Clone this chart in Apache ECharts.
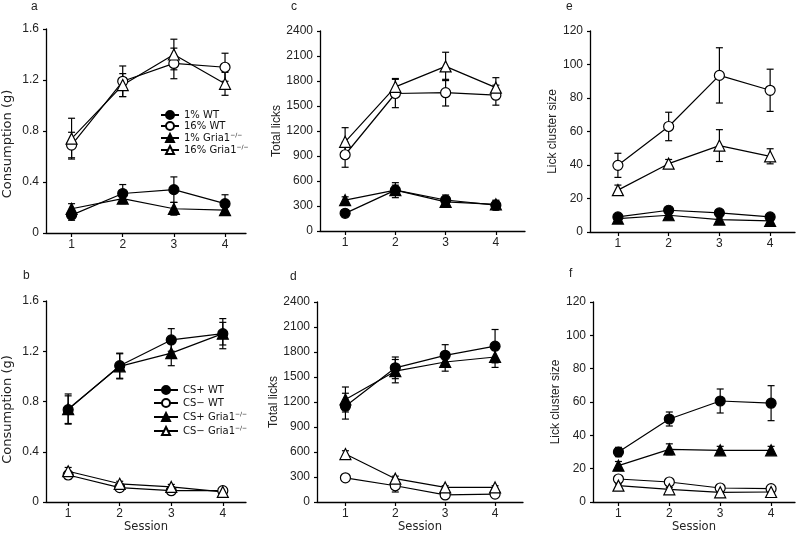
<!DOCTYPE html>
<html><head><meta charset="utf-8">
<script src="https://cdn.jsdelivr.net/npm/echarts@6/dist/echarts.min.js"></script>
<style>html,body{margin:0;padding:0;background:#fff}#c{width:796px;height:534px}</style>
</head><body><div id="c"></div>
<script>
const sessions = [1, 2, 3, 4];
const sessionTicks = [1, 2, 3, 4];

// Panel a: consumption (g), top row
const a_1wt = [0.14, 0.31, 0.34, 0.23];   const a_1wt_err = [0.04, 0.07, 0.10, 0.07];
const a_16wt = [0.69, 1.19, 1.33, 1.30];  const a_16wt_err = [0.10, 0.12, 0.12, 0.11];
const a_1ko = [0.19, 0.27, 0.19, 0.18];   const a_1ko_err = [0.04, 0.04, 0.05, 0.03];
const a_16ko = [0.74, 1.16, 1.40, 1.17];  const a_16ko_err = [0.16, 0.09, 0.12, 0.09];
// Panel c: total licks
const c_1wt = [212, 490, 372, 310];       const c_1wt_err = [40, 90, 60, 60];
const c_16wt = [915, 1650, 1660, 1630];   const c_16wt_err = [150, 170, 160, 120];
const c_1ko = [370, 490, 350, 320];       const c_1ko_err = [40, 60, 50, 40];
const c_16ko = [1070, 1730, 1975, 1720];  const c_16ko_err = [170, 100, 170, 120];
// Panel e: lick cluster size
const e_1wt = [9.0, 13.0, 11.4, 9.0];     const e_1wt_err = [1.2, 1.3, 1.2, 1.0];
const e_16wt = [39.8, 63.0, 93.5, 84.6];  const e_16wt_err = [7.2, 8.5, 16.5, 12.6];
const e_1ko = [8.0, 10.0, 7.4, 6.6];      const e_1ko_err = [1.0, 1.2, 1.0, 1.0];
const e_16ko = [25.0, 40.8, 51.6, 45.2];  const e_16ko_err = [3.0, 2.5, 9.5, 4.5];
// Panel b: consumption (g), bottom row
const b_cspwt = [0.735, 1.085, 1.29, 1.34]; const b_cspwt_err = [0.11, 0.10, 0.09, 0.09];
const b_csmwt = [0.215, 0.115, 0.09, 0.09]; const b_csmwt_err = [0.03, 0.02, 0.02, 0.02];
const b_cspko = [0.74, 1.08, 1.185, 1.34];  const b_cspko_err = [0.12, 0.10, 0.10, 0.12];
const b_csmko = [0.245, 0.145, 0.12, 0.08]; const b_csmko_err = [0.03, 0.02, 0.02, 0.02];
// Panel d: total licks
const d_cspwt = [1150, 1610, 1760, 1870];  const d_cspwt_err = [155, 130, 128, 200];
const d_csmwt = [290, 195, 85, 95];        const d_csmwt_err = [20, 75, 20, 20];
const d_cspko = [1230, 1570, 1680, 1740];  const d_cspko_err = [150, 140, 110, 125];
const d_csmko = [575, 280, 175, 175];      const d_csmko_err = [40, 30, 20, 20];
// Panel f: lick cluster size
const f_cspwt = [30.0, 49.8, 60.6, 59.3];  const f_cspwt_err = [2.8, 4.2, 7.2, 10.5];
const f_csmwt = [13.8, 12.0, 8.4, 8.0];    const f_csmwt_err = [1, 1, 1, 1];
const f_cspko = [21.8, 31.6, 31.0, 31.0];  const f_cspko_err = [2.5, 3.3, 2.4, 2.4];
const f_csmko = [9.8, 7.6, 5.8, 6.0];      const f_csmko_err = [1, 1, 1, 1];

const topNames = ['1% WT', '16% WT', '1% Gria1', '16% Gria1'];
const botNames = ['CS+ WT', 'CS\u2212 WT', 'CS+ Gria1', 'CS\u2212 Gria1'];
const yTitles = ['Consumption (g)', 'Total licks', 'Lick cluster size'];
const panelLetters = ['a', 'c', 'e', 'b', 'd', 'f'];

const panels = [
  {data: [[a_1wt, a_1wt_err], [a_16wt, a_16wt_err], [a_1ko, a_1ko_err], [a_16ko, a_16ko_err]], names: topNames, ymax: 1.6, yint: 0.4, title: yTitles[0]},
  {data: [[c_1wt, c_1wt_err], [c_16wt, c_16wt_err], [c_1ko, c_1ko_err], [c_16ko, c_16ko_err]], names: topNames, ymax: 2400, yint: 300, title: yTitles[1]},
  {data: [[e_1wt, e_1wt_err], [e_16wt, e_16wt_err], [e_1ko, e_1ko_err], [e_16ko, e_16ko_err]], names: topNames, ymax: 120, yint: 20, title: yTitles[2]},
  {data: [[b_cspwt, b_cspwt_err], [b_csmwt, b_csmwt_err], [b_cspko, b_cspko_err], [b_csmko, b_csmko_err]], names: botNames, ymax: 1.6, yint: 0.4, title: yTitles[0]},
  {data: [[d_cspwt, d_cspwt_err], [d_csmwt, d_csmwt_err], [d_cspko, d_cspko_err], [d_csmko, d_csmko_err]], names: botNames, ymax: 2400, yint: 300, title: yTitles[1]},
  {data: [[f_cspwt, f_cspwt_err], [f_csmwt, f_csmwt_err], [f_cspko, f_cspko_err], [f_csmko, f_csmko_err]], names: botNames, ymax: 120, yint: 20, title: yTitles[2]}
];

const labelFont = 'Liberation Sans, Arial, sans-serif';
const legendFont = 'DejaVu Sans, Verdana, sans-serif';

// layout (pixels)
const grids = [
  {left: 46, top: 29, width: 200, height: 204, xmin: 0.5, xmax: 4.41, nameGap: 32, pad: [0, 26, 0, 0], tf: legendFont, ts: 13, lx: 31, ly: 1},
  {left: 320, top: 31, width: 205, height: 200, xmin: 0.5, xmax: 4.58, nameGap: 37, pad: [0, 0, 0, 0], tf: labelFont, ts: 12, lx: 291, ly: 1},
  {left: 590, top: 31, width: 205, height: 201, xmin: 0.45, xmax: 4.49, nameGap: 21, pad: [0, 0, 0, 0], tf: labelFont, ts: 12, lx: 566, ly: 1},
  {left: 46, top: 301, width: 200, height: 202, xmin: 0.57, xmax: 4.45, nameGap: 32, pad: [0, 16, 0, 0], tf: legendFont, ts: 13, lx: 23, ly: 270},
  {left: 317, top: 302, width: 206, height: 200, xmin: 0.43, xmax: 4.56, nameGap: 34, pad: [0, 0, 0, 0], tf: labelFont, ts: 12, lx: 290, ly: 271},
  {left: 593, top: 302, width: 202, height: 201, xmin: 0.5, xmax: 4.47, nameGap: 25, pad: [0, 0, 0, 0], tf: labelFont, ts: 12, lx: 569, ly: 268}
];
const styles = [
  {symbol: 'circle', fill: '#000'},
  {symbol: 'circle', fill: '#fff'},
  {symbol: 'triangle', fill: '#000'},
  {symbol: 'triangle', fill: '#fff'}
];

const legendText = {fontFamily: legendFont, fontSize: 10, color: '#111', lineHeight: 10,
  rich: {s: {fontSize: 6, fontFamily: legendFont, color: '#111', padding: [0, 0, 6, 0]}}};

const option = {
  animation: false,
  backgroundColor: '#fff',
  grid: grids.map(g => ({left: g.left, top: g.top, width: g.width, height: g.height, containLabel: false})),
  xAxis: grids.map((g, i) => ({
    type: 'value', gridIndex: i, min: g.xmin, max: g.xmax,
    name: i >= 3 ? 'Session' : '', nameLocation: 'middle', nameGap: 19,
    nameTextStyle: {fontFamily: legendFont, fontSize: 11.5, color: '#222'},
    axisLine: {show: true, onZero: false, lineStyle: {color: '#000', width: 1.3}},
    axisTick: {show: true, length: 4, inside: false, customValues: sessionTicks, lineStyle: {color: '#000', width: 1.2}},
    axisLabel: {show: true, customValues: sessionTicks, margin: 6, fontFamily: labelFont, fontSize: 12, color: '#222'},
    splitLine: {show: false}
  })),
  yAxis: grids.map((g, i) => ({
    type: 'value', gridIndex: i, min: 0, max: panels[i].ymax, interval: panels[i].yint,
    name: panels[i].title, nameLocation: 'middle', nameGap: g.nameGap,
    nameTextStyle: {fontFamily: g.tf, fontSize: g.ts, color: '#222', padding: g.pad},
    axisLine: {show: true, lineStyle: {color: '#000', width: 1.3}},
    axisTick: {show: true, length: 3, lineStyle: {color: '#000', width: 1.2}},
    axisLabel: {margin: 7, fontFamily: labelFont, fontSize: 12, color: '#222', formatter: v => String(v)},
    splitLine: {show: false}
  })),
  legend: [
    {data: topNames, left: 155, top: 105, orient: 'vertical', itemGap: 1, itemWidth: 18, itemHeight: 10,
     selectedMode: false, formatter: n => n.indexOf('Gria1') >= 0 ? n + '{s|\u2212/\u2212}' : n, textStyle: legendText},
    {data: botNames, left: 148, top: 380, orient: 'vertical', itemGap: 3, itemWidth: 24, itemHeight: 10,
     selectedMode: false, formatter: n => n.indexOf('Gria1') >= 0 ? n + '{s|\u2212/\u2212}' : n, textStyle: legendText}
  ],
  graphic: grids.map((g, i) => ({
    type: 'text', left: g.lx, top: g.ly,
    style: {text: panelLetters[i], font: '12px ' + labelFont, fill: '#222'}
  })),
  series: []
};

panels.forEach((p, pi) => {
  p.data.forEach((pair, si) => {
    const vals = pair[0], errs = pair[1];
    option.series.push({
      type: 'custom', xAxisIndex: pi, yAxisIndex: pi, z: 1, silent: true,
      data: sessions.map((s, k) => [s, vals[k], errs[k]]),
      renderItem: (params, api) => {
        const x = api.value(0), v = api.value(1), e = api.value(2);
        const t = api.coord([x, v + e]), b = api.coord([x, v - e]);
        const w = 3.5;
        const st = {stroke: '#000', lineWidth: 1.2};
        return {type: 'group', children: [
          {type: 'line', shape: {x1: t[0], y1: t[1], x2: b[0], y2: b[1]}, style: st},
          {type: 'line', shape: {x1: t[0] - w, y1: t[1], x2: t[0] + w, y2: t[1]}, style: st},
          {type: 'line', shape: {x1: b[0] - w, y1: b[1], x2: b[0] + w, y2: b[1]}, style: st}
        ]};
      }
    });
    const st = styles[si];
    option.series.push({
      type: 'line', name: p.names[si], xAxisIndex: pi, yAxisIndex: pi, z: 3,
      data: sessions.map((s, k) => [s, vals[k]]),
      symbol: st.symbol, symbolSize: st.symbol === 'circle' ? 10 : 11, showAllSymbol: true,
      lineStyle: {color: '#000', width: 1.2},
      itemStyle: {color: st.fill, borderColor: '#000', borderWidth: 1.2},
      emphasis: {disabled: true}
    });
  });
});

const chart = echarts.init(document.getElementById('c'), null, {renderer: 'canvas'});
chart.setOption(option);
</script></body></html>
